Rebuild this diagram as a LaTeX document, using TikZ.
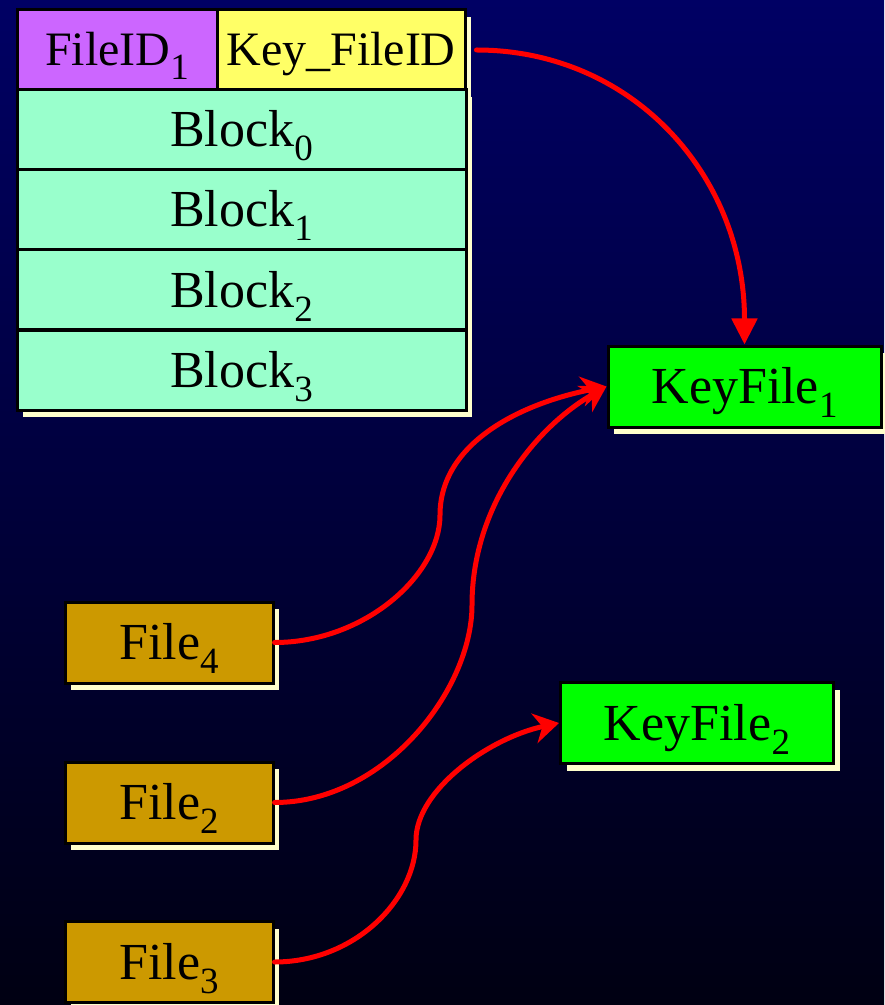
\documentclass[tikz,border=0pt]{standalone}
\usepackage{fontspec}
\setmainfont{Liberation Serif}
\usetikzlibrary{shadows,arrows.meta}

\definecolor{bgtop}{RGB}{0,0,100}
\definecolor{bgbot}{RGB}{0,0,18}
\definecolor{idpurple}{RGB}{204,102,255}
\definecolor{keyyellow}{RGB}{255,255,102}
\definecolor{blockmint}{RGB}{153,255,204}
\definecolor{keygreen}{RGB}{0,255,0}
\definecolor{filegold}{RGB}{204,153,0}
\definecolor{shadowcream}{RGB}{255,255,204}
\definecolor{linkred}{RGB}{255,0,0}

% lowered index digit that does not change the box height
\newcommand\lowidx[1]{\smash{\raisebox{-7pt}{\fontsize{18.5}{18.5}\selectfont #1}}}

\tikzset{
  cell/.style={draw=black, line width=1.5pt, inner sep=0pt, anchor=center,
    text=black, font=\fontsize{26}{26}\selectfont, text height=17pt, text depth=0pt,
    drop shadow={shadow xshift=3pt, shadow yshift=-3.5pt, fill=shadowcream, opacity=1}},
  headcell/.style={cell, font=\fontsize{24}{24}\selectfont, text height=16pt,
    minimum height=40pt},
  blockcell/.style={cell, fill=blockmint, minimum width=224.5pt, minimum height=40pt},
  keybox/.style={cell, fill=keygreen, minimum width=136.5pt, minimum height=40.5pt},
  filebox/.style={cell, fill=filegold, minimum width=104pt, minimum height=40.5pt},
  link/.style={draw=linkred, line width=2.5pt, line cap=round},
  linktip/.style={link, -{Stealth[length=12.5pt, width=15pt, inset=4pt]}},
  keytip/.style={link, -{Triangle[length=13pt, width=12.5pt]}},
}

\begin{document}
\begin{tikzpicture}[x=0.5pt, y=-0.5pt]
  \useasboundingbox (0,0) rectangle (884,1005);
  \shade[top color=bgtop, bottom color=bgbot] (0,0) rectangle (884,1005);

  % file header and its blocks
  \node[headcell, fill=idpurple, minimum width=100pt] (fid) at (117,50) {FileID\lowidx{1}};
  \node[headcell, fill=keyyellow, minimum width=124pt] (kfid) at (341,50) {Key\_FileID};
  \node[blockcell] (b0) at (241.5,130) {Block\lowidx{0}};
  \node[blockcell] (b1) at (241.5,210) {Block\lowidx{1}};
  \node[blockcell] (b2) at (241.5,290) {Block\lowidx{2}};
  \node[blockcell] (b3) at (241.5,370) {Block\lowidx{3}};

  % key files
  \node[keybox] (kf1) at (744.5,386.5) {KeyFile\lowidx{1}};
  \node[keybox] (kf2) at (697,723) {KeyFile\lowidx{2}};

  % files
  \node[filebox] (f4) at (169,642.5) {File\lowidx{4}};
  \node[filebox] (f2) at (169,802.5) {File\lowidx{2}};
  \node[filebox] (f3) at (169,962) {File\lowidx{3}};

  % bends of the links
  \coordinate (m4) at (440,515);
  \coordinate (m2) at (472,605);
  \coordinate (m3) at (416,840);

  % links
  \draw[keytip] ([xshift=5pt]kfid.east) .. controls +(155,0) and +(0,-170) .. (kf1.north);
  \draw[linktip] (f4.east) .. controls +(90,0) and +(0,60) .. (m4)
                           .. controls +(0,-70) and +(-90,18) .. (kf1.west);
  \draw[linktip] (f2.east) .. controls +(110,0) and +(0,85) .. (m2)
                           .. controls +(0,-100) and +(-70,40) .. (kf1.west);
  \draw[linktip] (f3.east) .. controls +(80,0) and +(0,60) .. (m3)
                           .. controls +(0,-50) and +(-70,15) .. (kf2.west);
\end{tikzpicture}
\end{document}
